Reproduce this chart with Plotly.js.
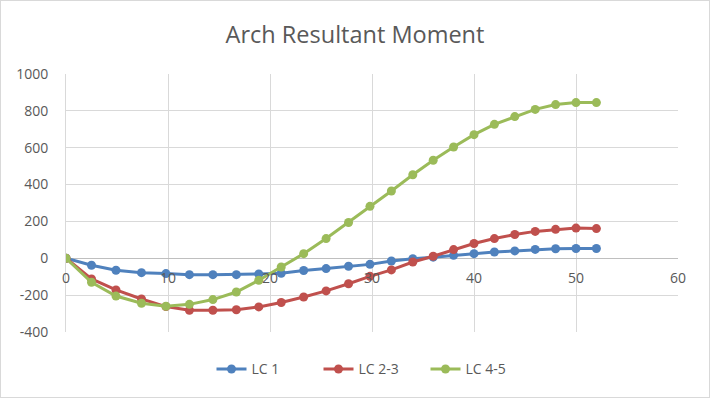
<!DOCTYPE html>
<html>
<head>
<meta charset="utf-8">
<script src="https://cdn.plot.ly/plotly-3.0.1.min.js"></script>
<style>
html,body{margin:0;padding:0;background:#fff;}
#chart{width:710px;height:398px;box-sizing:border-box;border:1px solid #d9d9d9;}
</style>
</head>
<body>
<div id="chart"></div>
<script>
// Data
const xPos = [0, 2.5, 4.9, 7.4, 9.8, 12.1, 14.4, 16.7, 18.9, 21.1, 23.3, 25.5, 27.7, 29.8, 31.9, 34.0, 36, 38, 40, 42, 44, 46, 48, 50, 52];
const lc1 = [0, -38, -65, -78, -83, -89, -89, -89, -85, -81, -66, -56, -43, -33, -15, -2, 6, 16, 25, 34, 40, 48, 52, 53, 53];
const lc23 = [0, -112, -172, -221, -262, -282, -282, -279, -264, -240, -210, -177, -138, -98, -63, -20, 11, 47, 80, 107, 129, 146, 157, 164, 161];
const lc45 = [0, -130, -205, -244, -260, -250, -224, -183, -119, -47, 25, 107, 194, 282, 365, 453, 532, 604, 671, 727, 769, 808, 834, 845, 845];
const seriesNames = ["LC 1", "LC 2-3", "LC 4-5"];
const seriesColors = ["#4F81BD", "#C0504D", "#9BBB59"];
const xTickVals = [0, 10, 20, 30, 40, 50, 60];
const yTickVals = [-400, -200, 0, 200, 400, 600, 800, 1000];
const yTickText = ["-400", "-200", "0", "200", "400", "600", "800", "1000"];

const ys = [lc1, lc23, lc45];
const traces = ys.map((y, i) => ({
  x: xPos, y: y, type: "scatter", mode: "lines+markers", name: seriesNames[i],
  line: {color: seriesColors[i], width: 3},
  marker: {color: seriesColors[i], size: 9}
}));

const txt = "#595959";
const layout = {
  width: 708, height: 396,
  margin: {l: 65, r: 31, t: 73, b: 65},
  paper_bgcolor: "#fff", plot_bgcolor: "#fff",
  font: {family: "Open Sans, sans-serif", color: txt, size: 14},
  title: {text: "Arch Resultant Moment", font: {size: 23.5, color: txt, family: "Open Sans, sans-serif"},
          x: 0.5, xanchor: "center", y: 0.915, yref: "container", yanchor: "middle"},
  xaxis: {range: [0, 60], tickvals: xTickVals, showgrid: true, gridcolor: "#d9d9d9", gridwidth: 1,
          zeroline: false, showline: false, ticks: "", anchor: "free", position: 400/1400,
          ticklabelstandoff: 10, tickfont: {size: 14, color: txt}},
  yaxis: {range: [-400, 1000], tickvals: yTickVals, ticktext: yTickText, showgrid: true,
          gridcolor: "#d9d9d9", gridwidth: 1, zeroline: true, zerolinecolor: "#bfbfbf", zerolinewidth: 1.5,
          showline: true, linecolor: "#d9d9d9", linewidth: 1, ticks: "", ticklabelstandoff: 14,
          tickfont: {size: 14, color: txt}},
  showlegend: true,
  legend: {orientation: "h", x: 0.5, xanchor: "center", y: -0.145, yanchor: "middle",
           font: {size: 14, color: txt}, itemwidth: 30, entrywidth: 62, entrywidthmode: "pixels"},
};
Plotly.newPlot("chart", traces, layout, {displayModeBar: false, staticPlot: true});
</script>
</body>
</html>
